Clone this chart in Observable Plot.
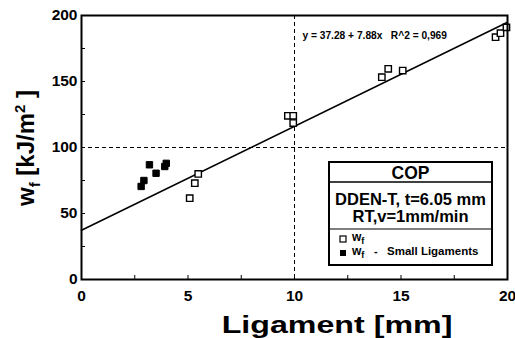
<!DOCTYPE html>
<html>
<head>
<meta charset="utf-8">
<script src="https://cdn.jsdelivr.net/npm/d3@7"></script>
<script src="https://cdn.jsdelivr.net/npm/@observablehq/plot@0.6"></script>
<style>
  html, body { margin: 0; padding: 0; background: #fff; }
  #chart { position: relative; width: 515px; height: 338px; }
  svg text { font-family: "Liberation Sans", Arial, sans-serif; font-weight: bold; }
</style>
</head>
<body>
<div id="chart"></div>
<script>
// ----- data -----
const ligOpen = [5.08, 5.32, 5.48, 9.69, 9.94, 9.94, 14.1, 14.4, 15.08, 19.44, 19.67, 19.95];
const wfOpen  = [61.6, 73.0, 80.0, 124.0, 124.0, 118.5, 153.3, 159.6, 158.3, 183.6, 186.6, 191.0];
const ligSmall = [2.8, 2.93, 3.19, 3.5, 3.91, 3.98];
const wfSmall  = [70.5, 75.0, 86.9, 80.5, 85.6, 88.0];
const fitIntercept = 37.28;
const fitSlope = 7.88;
const fitRange = [0, 20];
const eqLabel = "y = 37.28 + 7.88x   R^2 = 0,969";
const xTicks = [0, 5, 10, 15, 20];
const yTicks = [0, 50, 100, 150, 200];
const xMinor = [0, 2.5, 5, 7.5, 10, 12.5, 15, 17.5, 20];
const yMinor = [0, 25, 50, 75, 100, 125, 150, 175, 200];
const refX = [10];
const refY = [100];

const openPts = ligOpen.map((x, i) => ({x, y: wfOpen[i]}));
const smallPts = ligSmall.map((x, i) => ({x, y: wfSmall[i]}));
const fitPts = fitRange.map(x => ({x, y: fitIntercept + fitSlope * x}));

const W = 515, H = 338;
const mL = 81, mR = 8, mT = 15, mB = 59;

const chart = Plot.plot({
  width: W, height: H,
  marginLeft: mL, marginRight: mR, marginTop: mT, marginBottom: mB,
  style: {fontFamily: "Liberation Sans, Arial, sans-serif", background: "#fff", color: "#000"},
  x: {domain: [0, 20], label: null},
  y: {domain: [0, 200], label: null},
  marks: [
    Plot.ruleX(refX, {stroke: "#000", strokeWidth: 1, strokeDasharray: "4,3"}),
    Plot.ruleY(refY, {stroke: "#000", strokeWidth: 1, strokeDasharray: "4,3"}),
    Plot.axisX({ticks: xMinor, tickSize: -4, tickFormat: () => "", strokeWidth: 1, label: null}),
    Plot.axisY({ticks: yMinor, tickSize: -4, tickFormat: () => "", strokeWidth: 1, label: null}),
    Plot.axisX({ticks: xTicks, tickSize: 0, tickPadding: 10, fontSize: 15.5, fontWeight: "bold", label: null}),
    Plot.axisY({ticks: yTicks, tickSize: 0, tickPadding: 4, fontSize: 15.5, fontWeight: "bold", label: null}),
    Plot.line(fitPts, {x: "x", y: "y", stroke: "#000", strokeWidth: 1.6}),
    Plot.dot(openPts, {x: "x", y: "y", symbol: "square", r: 3.6, fill: "#fff", stroke: "#000", strokeWidth: 1.4}),
    Plot.dot(smallPts, {x: "x", y: "y", symbol: "square", r: 3.6, fill: "#000", stroke: "#000", strokeWidth: 1}),
    Plot.text([eqLabel], {frameAnchor: "top-left", dx: 302 - mL, dy: 31 - mT, text: d => d, fontSize: 10.2, fontWeight: "bold", textAnchor: "start", fill: "#000"}),
    Plot.frame({stroke: "#000", strokeWidth: 2})
  ]
});
document.getElementById("chart").appendChild(chart);

const svg = d3.select(chart);
svg.selectAll("text").style("font-weight", "bold");

// axis titles
svg.append("text")
  .attr("transform", "translate(337,333) scale(1.4,1)")
  .attr("text-anchor", "middle")
  .style("font-size", "23px")
  .text("Ligament [mm]");

const yl = svg.append("text")
  .attr("transform", "translate(34,148) rotate(-90)")
  .attr("text-anchor", "middle")
  .style("font-size", "24px");
yl.append("tspan").text("w");
yl.append("tspan").attr("dy", 6).style("font-size", "15px").text("f");
yl.append("tspan").attr("dy", -6).text(" [kJ/m");
yl.append("tspan").attr("dy", -9).style("font-size", "15px").text("2");
yl.append("tspan").attr("dy", 9).text(" ]");

// legend box
const lg = svg.append("g").attr("text-anchor", "start");
const bx = 329, by = 162, bw = 163, bh = 103;
lg.append("rect").attr("x", bx).attr("y", by).attr("width", bw).attr("height", bh)
  .attr("fill", "#fff").attr("stroke", "#000").attr("stroke-width", 2);
lg.append("line").attr("x1", bx).attr("x2", bx + bw).attr("y1", 182).attr("y2", 182).attr("stroke", "#000").attr("stroke-width", 1.5);
lg.append("line").attr("x1", bx).attr("x2", bx + bw).attr("y1", 229).attr("y2", 229).attr("stroke", "#000").attr("stroke-width", 1.2);
lg.append("text").attr("x", bx + bw / 2).attr("y", 179).attr("text-anchor", "middle").style("font-size", "17.5px").text("COP");
lg.append("text").attr("x", bx + bw / 2).attr("y", 205).attr("text-anchor", "middle").style("font-size", "16.5px").text("DDEN-T, t=6.05 mm");
lg.append("text").attr("x", bx + bw / 2).attr("y", 222).attr("text-anchor", "middle").style("font-size", "16.5px").text("RT,v=1mm/min");
lg.append("rect").attr("x", 340).attr("y", 236).attr("width", 6).attr("height", 6).attr("fill", "#fff").attr("stroke", "#000").attr("stroke-width", 1.2);
lg.append("rect").attr("x", 340).attr("y", 250).attr("width", 6).attr("height", 6).attr("fill", "#000");
const t1 = lg.append("text").attr("x", 352).attr("y", 241).attr("text-anchor", "start").style("font-size", "12px");
t1.append("tspan").text("w");
t1.append("tspan").attr("dy", 3).style("font-size", "9px").text("f");
const t2 = lg.append("text").attr("x", 352).attr("y", 255).attr("text-anchor", "start").style("font-size", "12px");
t2.append("tspan").text("w");
t2.append("tspan").attr("dy", 3).style("font-size", "9px").text("f");
lg.append("text").attr("x", 374).attr("y", 255).attr("text-anchor", "start").style("font-size", "11px").text("-");
lg.append("text").attr("x", 387).attr("y", 255).attr("text-anchor", "start").style("font-size", "11.5px").text("Small Ligaments");
</script>
</body>
</html>
